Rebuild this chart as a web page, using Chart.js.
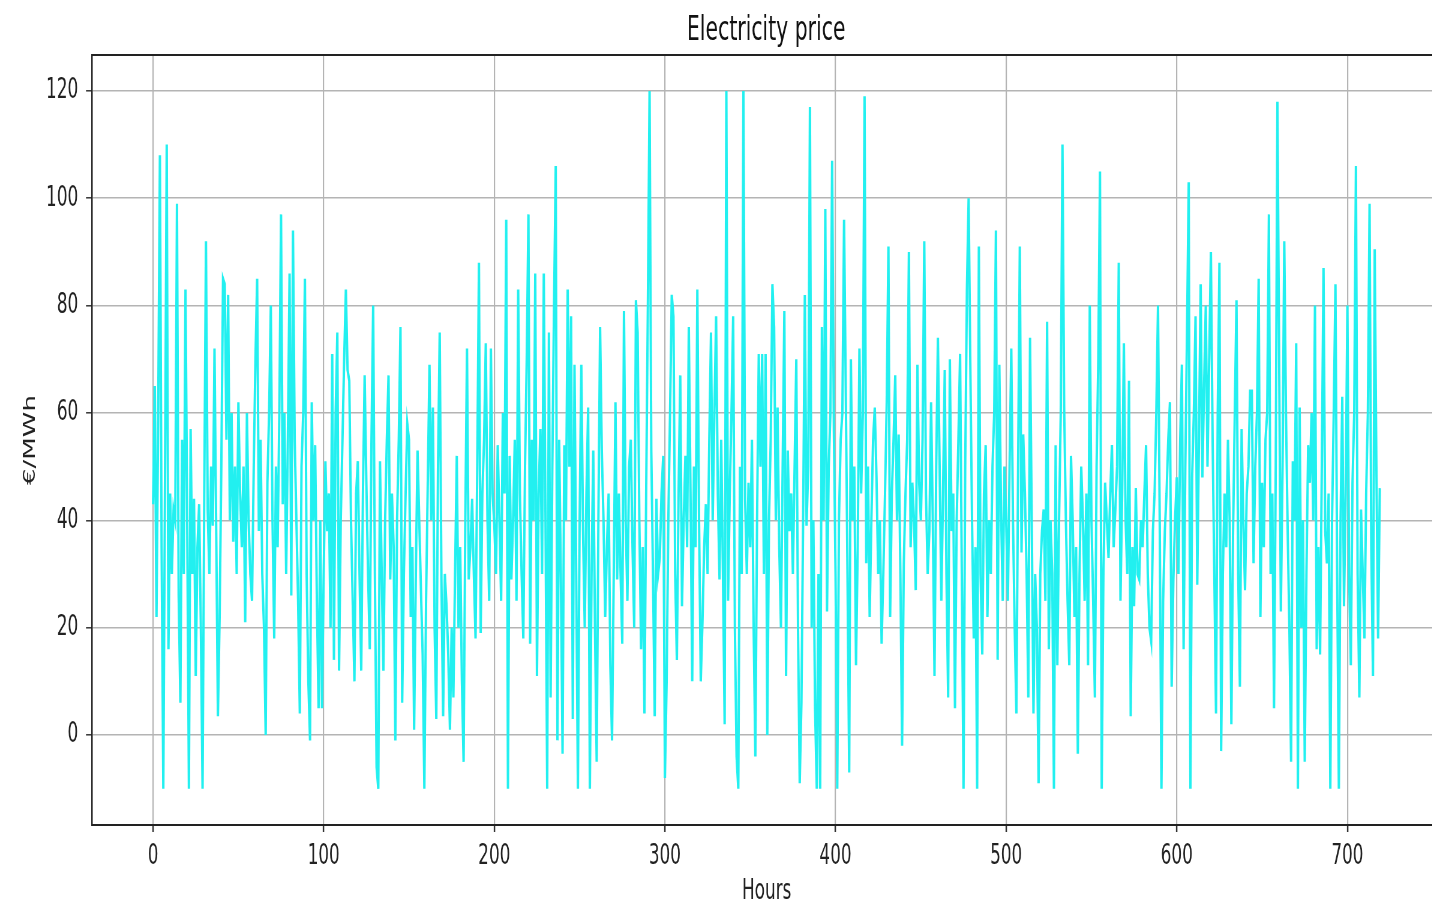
<!DOCTYPE html>
<html>
<head>
<meta charset="utf-8">
<script src="https://cdn.jsdelivr.net/npm/chart.js@4/dist/chart.umd.min.js"></script>
<style>
html,body{margin:0;padding:0;background:#fff;overflow:hidden;width:1432px;height:907px;}
#wrap{position:absolute;left:0;top:0;width:2554px;height:907px;transform:scaleX(0.6);transform-origin:0 0;}
canvas{display:block;}
</style>
</head>
<body>
<div id="wrap"><canvas id="c" width="2554" height="907"></canvas></div>
<script>
// Hourly prices (€/MWh), hours 0..719 in five blocks of 144
const pricesA = [43,65,22,60,108,35,-10,48,110,16, 45,30,42,40,99,26,6,55,30,83,
 40,-10,57,30,44,11,35,43,20,-10, 45,92,42,30,50,39,72,38,3.5,22,
 50,85,84,55,82,40,60,36,50,30, 62,45,35,50,21,60,40,30,25,50,
 70,85,38,55,30,20,0,47,60,80, 40,18,50,35,60,97,43,60,30,55,
 86,26,94,55,40,25,4,50,60,85, 30,10,-1,62,40,54,25,5,40,5,
 30,51,38,45,20,71,14,60,75,12, 40,55,70,83,68,66,40,25,10,45,
 51,30,12,45,67,47,30,16,55,80, 30,-6,-10,51,30,12,40,55,67,29,
 45,35,-1,40];
const pricesB = [55,76,6,30,45,58,
 55,22,35,1,30,53,40,27,15,-10, 25,47,69,40,61,20,3,50,75,29,
 3.5,30,24,15,1,20,7,30,52,20, 35,10,-5,40,72,29,35,44,30,18,
 50,88,19,45,55,73,40,25,72,45, 39,30,54,40,25,60,45,96,-10,52,
 29,40,55,25,83,45,30,18,50,70, 97,17,55,40,86,11,45,57,30,86,
 40,-10,75,7,50,80,106,-1,55,30, -3.5,54,40,83,50,78,3,69,30,-10,
 40,69,38,20,45,61,-10,30,53,20, -5,40,76,53,40,22,35,45,13,-1,
 30,62,29,45,30,17,79,40,25,50, 55,35,20,81,75,40,16,35];
const pricesC = [4,45,
 80,120,53,30,3.5,44,30,33,45,52, -8,10,40,60,82,78,30,14,45,67,
 24,40,52,35,76,45,10,50,35,83, 40,10,21,35,43,30,55,75,40,60,
 78,45,29,55,30,2,120,25,45,60, 78,20,-4,-10,50,30,120,44,30,47,
 35,55,20,-4,40,71,50,71,30,71, 0,40,55,84,76,40,61,35,20,50,
 79,11,53,38,45,30,50,70,20,-9, 6,40,82,39,50,117,20,40,5,-10,
 30,-10,76,40,98,23,50,60,107,57, 30,-10,40,55,60,96,64,30,-7,70,
 40,50,13,35,72,45,60,119,32,50, 22,40,55,61,48,30,40,17,30,45,
 62,91];
const pricesD = [22,45,55,67,40,56,30,-2,
 32,45,55,90,35,47,40,27,69,47, 40,55,92,45,30,38,62,40,11,50,
 74,50,25,45,68,30,7,70,38,45, 5,40,55,71,30,-10,50,83,100,69,
 40,18,35,-10,91,30,15,45,54,22, 40,30,50,60,94,14,69,42,25,50,
 40,25,50,72,40,20,4,50,91,34, 56,45,30,7,74,40,4,30,20,-9,
 30,38,42,25,77,16,40,30,-10,54, 13,40,60,110,61,40,25,13,52,40,
 22,35,-3.5,30,50,40,25,45,13,80, 40,25,7,50,70,105,-10,30,47,40,
 33,45,54,35,42,50,88,25,45,73, 40,30,66,3.5,35,24];
const pricesE = [46,30,29,40,
 35,45,54,30,20,17.5,38,45,60,80, 40,-10,25,38,45,55,62,9,29,40,
 48,30,55,69,16,50,75,103,-10,48, 60,78,28,55,84,48,65,80,50,70,
 90,55,30,4,60,88,-3,30,45,35, 55,40,2,38,60,81,30,9,57,40,
 27,45,50,64,64,32,50,60,85,22, 47,35,55,60,97,30,45,5,50,118,
 70,23,50,92,60,38,20,-5,51,40, 73,-10,61,20,40,-5,30,54,47,60,
 40,80,16,35,15,50,87,38,32,45, -10,40,60,84,30,-10,40,63,24,45,
 80,30,13,47,60,106,30,7,42,30, 18,45,60,99,35,11,90.5,50,18,46];
const xTicks = [0,100,200,300,400,500,600,700];
const yTicks = [0,20,40,60,80,100,120];

const prices = [].concat(pricesA, pricesB, pricesC, pricesD, pricesE);
const points = prices.map((v, i) => ({x: i, y: v}));

const frame = {
  id: 'frame',
  afterDraw(chart) {
    const a = chart.chartArea, ctx = chart.ctx;
    ctx.save();
    ctx.strokeStyle = '#222';
    ctx.lineWidth = 2;
    ctx.beginPath();
    ctx.moveTo(a.left, a.top);
    ctx.lineTo(a.right, a.top);
    ctx.lineTo(a.right, a.bottom);
    ctx.stroke();
    ctx.restore();
  }
};

const FONT = "'DejaVu Sans', sans-serif";
new Chart(document.getElementById('c'), {
  type: 'line',
  data: { datasets: [{ data: points, borderColor: '#22f0f0', borderWidth: 4, pointRadius: 0, tension: 0, fill: false }] },
  options: {
    responsive: false, animation: false, devicePixelRatio: 1,
    layout: { padding: 0 },
    plugins: {
      legend: { display: false },
      tooltip: { enabled: false },
      title: { display: true, text: 'Electricity price', color: '#111',
               font: { family: FONT, size: 34, weight: 'normal' }, padding: { top: 11, bottom: 3.2 } }
    },
    scales: {
      x: {
        type: 'linear', min: -35.8, max: 755.1,
        afterBuildTicks: s => { s.ticks = xTicks.map(v => ({ value: v })); },
        afterFit: s => { s.height = 82; },
        ticks: { color: '#222', font: { family: FONT, size: 28 }, padding: 8, maxRotation: 0, autoSkip: false },
        grid: { color: '#b4b4b4', lineWidth: 2.2, tickLength: 7, tickColor: '#333', tickWidth: 2.5 },
        border: { color: '#222', width: 2 },
        title: { display: true, text: 'Hours', color: '#222', font: { family: FONT, size: 28 }, padding: { top: 0, bottom: -2 } }
      },
      y: {
        type: 'linear', min: -16.77, max: 126.7,
        afterBuildTicks: s => { s.ticks = yTicks.map(v => ({ value: v })); },
        afterFit: s => { s.width = 153.3; },
        ticks: { color: '#222', font: { family: FONT, size: 28 }, padding: 13 },
        grid: { color: '#b4b4b4', lineWidth: 1.6, tickLength: 10, tickColor: '#333', tickWidth: 1.5 },
        border: { color: '#222', width: 2.5 },
        title: { display: true, text: '€/MWh', color: '#222', font: { family: FONT, size: 26 }, padding: { top: 36, bottom: 0 } }
      },
      yRight: {
        type: 'linear', position: 'right', min: -16.77, max: 126.7,
        afterFit: s => { s.width = 151.7; },
        ticks: { display: false },
        grid: { display: false, drawTicks: false },
        border: { display: false }
      }
    }
  },
  plugins: [frame]
});
</script>
</body>
</html>
